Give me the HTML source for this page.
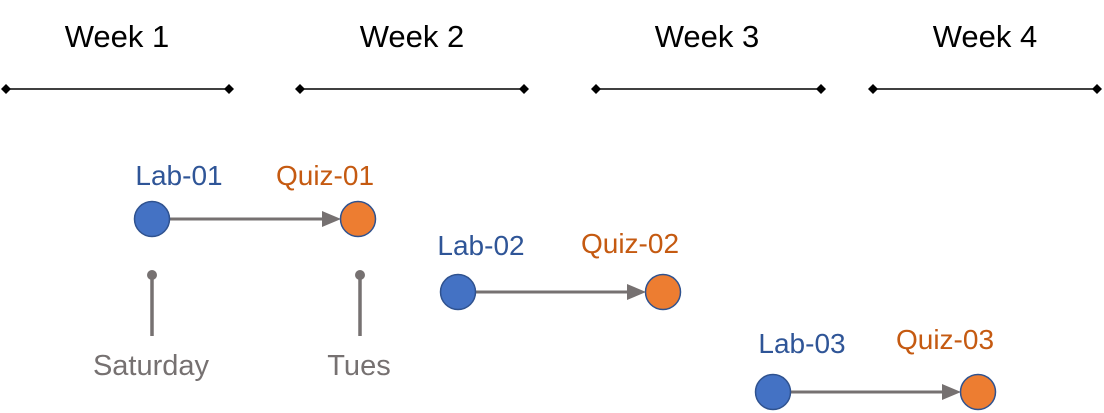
<!DOCTYPE html>
<html><head><meta charset="utf-8"><style>
html,body{margin:0;padding:0;background:#fff;}
svg{display:block;}
text{font-family:"Liberation Sans",sans-serif;}
</style></head><body>
<svg width="1104" height="413" viewBox="0 0 1104 413" xmlns="http://www.w3.org/2000/svg">
<g font-size="31" fill="#000" text-anchor="middle">
<text x="117" y="47">Week 1</text>
<text x="412" y="47">Week 2</text>
<text x="707" y="47">Week 3</text>
<text x="985" y="47">Week 4</text>
</g>
<g stroke="#000" stroke-width="1.5">
<line x1="6" y1="89" x2="229" y2="89"/>
<line x1="300" y1="89" x2="524" y2="89"/>
<line x1="596" y1="89" x2="821" y2="89"/>
<line x1="873" y1="89" x2="1097" y2="89"/>
</g>
<g fill="#000">
<path d="M6,84 l5,5 l-5,5 l-5,-5z"/><path d="M229,84 l5,5 l-5,5 l-5,-5z"/>
<path d="M300,84 l5,5 l-5,5 l-5,-5z"/><path d="M524,84 l5,5 l-5,5 l-5,-5z"/>
<path d="M596,84 l5,5 l-5,5 l-5,-5z"/><path d="M821,84 l5,5 l-5,5 l-5,-5z"/>
<path d="M873,84 l5,5 l-5,5 l-5,-5z"/><path d="M1097,84 l5,5 l-5,5 l-5,-5z"/>
</g>
<g stroke="#767171" stroke-width="3">
<line x1="170" y1="219" x2="325" y2="219"/>
<line x1="476" y1="292" x2="630" y2="292"/>
<line x1="791" y1="392" x2="945" y2="392"/>
</g>
<g fill="#767171">
<path d="M322,211 L341,219 L322,227z"/>
<path d="M627,284 L646,292 L627,300z"/>
<path d="M942,384 L961,392 L942,400z"/>
</g>
<g stroke="#2f528f" stroke-width="1.5">
<circle cx="152" cy="219" r="17.5" fill="#4472c4"/>
<circle cx="358" cy="219" r="17.5" fill="#ed7d31"/>
<circle cx="458" cy="292" r="17.5" fill="#4472c4"/>
<circle cx="663" cy="292" r="17.5" fill="#ed7d31"/>
<circle cx="773" cy="392" r="17.5" fill="#4472c4"/>
<circle cx="978" cy="392" r="17.5" fill="#ed7d31"/>
</g>
<g font-size="28" text-anchor="middle">
<text x="179" y="185" fill="#2f5597">Lab-01</text>
<text x="325" y="185" fill="#c55a11">Quiz-01</text>
<text x="481" y="255" fill="#2f5597">Lab-02</text>
<text x="630" y="253" fill="#c55a11">Quiz-02</text>
<text x="802" y="353" fill="#2f5597">Lab-03</text>
<text x="945" y="349" fill="#c55a11">Quiz-03</text>
</g>
<g stroke="#767171" stroke-width="3.5">
<line x1="152" y1="275" x2="152" y2="336"/>
<line x1="360" y1="275" x2="360" y2="336"/>
</g>
<circle cx="152" cy="275" r="5" fill="#767171"/>
<circle cx="360" cy="275" r="5" fill="#767171"/>
<g font-size="29" fill="#767171" text-anchor="middle">
<text x="151" y="375">Saturday</text>
<text x="359" y="375">Tues</text>
</g>
</svg>
</body></html>
